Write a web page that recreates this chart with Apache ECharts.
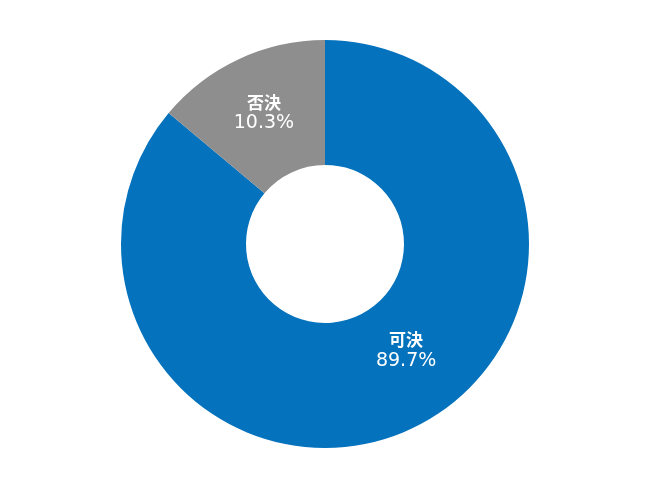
<!DOCTYPE html>
<html><head><meta charset="utf-8">
<script src="https://cdn.jsdelivr.net/npm/echarts@6/dist/echarts.min.js"></script>
<style>html,body{margin:0;padding:0;background:#fff}#c{width:650px;height:489px}</style>
</head><body><div id="c"></div>
<script>
// Categories and printed percentages (as shown in the reference)
const categories = ['可決', '否決'];
const labelPercents = ['89.7%', '10.3%'];
// Slice sizes as drawn in the reference picture (angle measured: ~50° grey)
const sliceValues = [86.1, 13.9];
const colors = ['#0472BC', '#8E8E8E'];

const chart = echarts.init(document.getElementById('c'));
chart.setOption({
  animation: false,
  series: [{
    type: 'pie',
    center: [325, 244],
    radius: [79, 204],
    startAngle: 90,
    clockwise: true,
    silent: true,
    label: {
      position: 'inside',
      formatter: p => '{a|' + p.name + '}\n{b|' + labelPercents[p.dataIndex] + '}',
      rich: {
        a: { fontFamily: 'Noto Sans CJK JP', fontSize: 17, fontWeight: 'bold', color: '#fff', lineHeight: 21 },
        b: { fontFamily: 'DejaVu Sans', fontSize: 19, fontWeight: 'normal', color: '#fff', lineHeight: 22 }
      }
    },
    labelLine: { show: false },
    data: categories.map((c, i) => ({
      name: c,
      value: sliceValues[i],
      itemStyle: { color: colors[i] },
      label: i === 0 ? { offset: [20, -24] } : { offset: [0, 0] }
    }))
  }]
});
</script></body></html>
